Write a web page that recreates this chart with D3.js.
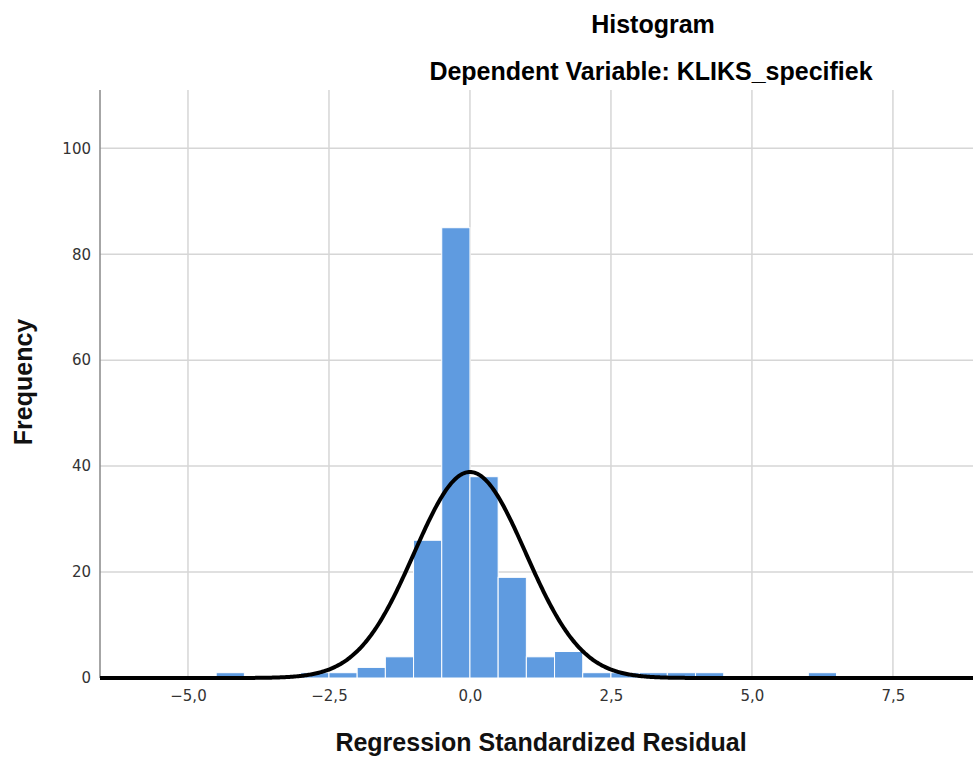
<!DOCTYPE html>
<html>
<head>
<meta charset="utf-8">
<script src="https://cdn.jsdelivr.net/npm/d3@7"></script>
<style>
  body { margin: 0; background: #fff; }
  .tick text { font-family: "DejaVu Sans", sans-serif; font-size: 15px; fill: #333; }
  .title { font-family: "Liberation Sans", sans-serif; font-weight: bold; font-size: 25px; fill: #000; }
  .axis-title { font-family: "Liberation Sans", sans-serif; font-weight: bold; font-size: 25px; fill: #111; }
</style>
</head>
<body>
<svg id="chart" width="973" height="758"></svg>
<script>
// histogram bins (lower edge, width 0.5) and their counts
const binStarts = [-4.5, -3.0, -2.5, -2.0, -1.5, -1.0, -0.5, 0.0, 0.5, 1.0, 1.5, 2.0, 2.5, 3.0, 3.5, 4.0, 6.0];
const binCounts = [1, 1, 1, 2, 4, 26, 85, 38, 19, 4, 5, 1, 1, 1, 1, 1, 1];
const binWidth = 0.5;

// normal curve parameters (as reported for the residuals)
const mean = 0;
const stdDev = 0.99;
const n = 193;

const xTicks = [-5, -2.5, 0, 2.5, 5, 7.5];
const yTicks = [0, 20, 40, 60, 80, 100];

const svg = d3.select('svg#chart');
const margin = { top: 90, right: 0, bottom: 80, left: 100 };
const width = +svg.attr('width') - margin.left - margin.right;
const height = +svg.attr('height') - margin.top - margin.bottom;

const x = d3.scaleLinear().domain([-6.56, 8.92]).range([0, width]);
const y = d3.scaleLinear().domain([0, 111]).range([height, 0]);

const g = svg.append('g').attr('transform', `translate(${margin.left},${margin.top})`);

// grid lines
g.append('g')
    .selectAll('line')
    .data(yTicks.slice(1))
    .join('line')
    .attr('x1', 0).attr('x2', width)
    .attr('y1', d => y(d)).attr('y2', d => y(d))
    .attr('stroke', '#d6d6d6').attr('stroke-width', 1.5);
g.append('g')
    .selectAll('line')
    .data(xTicks)
    .join('line')
    .attr('x1', d => x(d)).attr('x2', d => x(d))
    .attr('y1', 0).attr('y2', height)
    .attr('stroke', '#d6d6d6').attr('stroke-width', 1.5);

// bars
g.append('g')
    .selectAll('rect')
    .data(binStarts.map((s, i) => ({ s, c: binCounts[i] })))
    .join('rect')
    .attr('x', d => x(d.s))
    .attr('width', d => x(d.s + binWidth) - x(d.s))
    .attr('y', d => y(d.c))
    .attr('height', d => y(0) - y(d.c))
    .attr('fill', '#5f9be0')
    .attr('stroke', '#fff')
    .attr('stroke-width', 1);

// axes
const fmt = d => d3.format('.1f')(d).replace('.', ',').replace('-', '\u2212');
const xAxis = g.append('g')
    .attr('transform', `translate(0,${height})`)
    .call(d3.axisBottom(x).tickValues(xTicks).tickSize(0).tickPadding(12).tickFormat(fmt));
xAxis.select('.domain').remove();

const yAxis = g.append('g')
    .call(d3.axisLeft(y).tickValues(yTicks).tickSize(0).tickPadding(9));
yAxis.select('.domain').remove();
g.append('line')
    .attr('x1', 0).attr('x2', 0).attr('y1', 0).attr('y2', height)
    .attr('stroke', '#888').attr('stroke-width', 1.5);

// normal curve
const xs = d3.range(x.domain()[0], x.domain()[1] + 0.02, 0.02);
const normal = v => n * binWidth * Math.exp(-0.5 * ((v - mean) / stdDev) ** 2) / (stdDev * Math.sqrt(2 * Math.PI));
g.append('path')
    .datum(xs)
    .attr('fill', 'none')
    .attr('stroke', '#000')
    .attr('stroke-width', 4)
    .attr('d', d3.line().x(d => x(d)).y(d => y(normal(d))));

// titles
svg.append('text').attr('class', 'title')
    .attr('x', 653).attr('y', 33).attr('text-anchor', 'middle')
    .text('Histogram');
svg.append('text').attr('class', 'title')
    .attr('x', 651).attr('y', 80).attr('text-anchor', 'middle')
    .text('Dependent Variable: KLIKS_specifiek');
svg.append('text').attr('class', 'axis-title')
    .attr('x', 541).attr('y', 751).attr('text-anchor', 'middle')
    .text('Regression Standardized Residual');
svg.append('text').attr('class', 'axis-title')
    .attr('transform', 'translate(32,382) rotate(-90)')
    .attr('text-anchor', 'middle')
    .text('Frequency');
</script>
</body>
</html>
